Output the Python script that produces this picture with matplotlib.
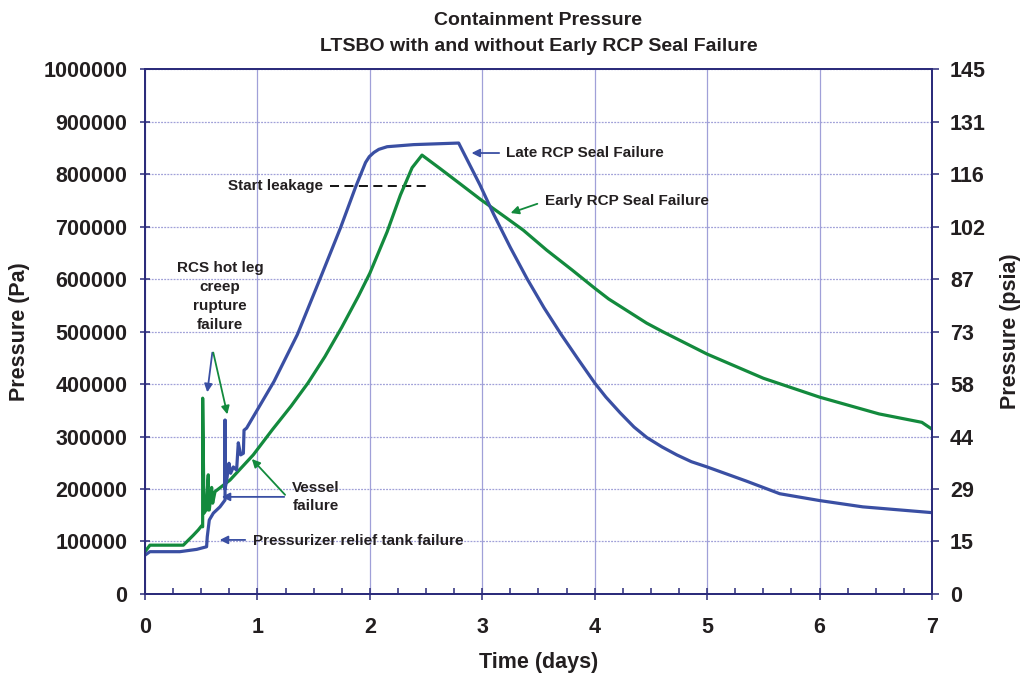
import matplotlib
matplotlib.use("Agg")
import matplotlib.pyplot as plt
from matplotlib.ticker import MultipleLocator

plt.rcParams['font.family'] = ['Liberation Sans', 'DejaVu Sans']
plt.rcParams['font.weight'] = 'bold'

# Late RCP seal failure (blue), time in days, pressure in Pa
late_days = [0.0, 0.044, 0.31, 0.46, 0.548, 0.554, 0.572, 0.608, 0.667, 0.712, 0.712, 0.712,
             0.727, 0.747, 0.762, 0.786, 0.815, 0.83, 0.851, 0.875, 0.881, 0.904, 1.052, 1.148,
             1.355, 1.562, 1.74, 1.873, 1.962, 1.995, 2.036, 2.08, 2.154, 2.39, 2.79, 2.98, 3.1,
             3.25, 3.4, 3.55, 3.7, 3.85, 4.0, 4.1, 4.227, 4.35, 4.464, 4.6, 4.73, 4.86, 5.0,
             5.35, 5.646, 6.0, 6.384, 7.0]
late_pa = [74000, 80600, 80600, 85000, 90000, 109000, 141000, 154000, 166000, 179000, 331000, 200000,
           217000, 249000, 230000, 242000, 236000, 288000, 265000, 268000, 312000, 316000, 370000, 405000,
           494000, 603000, 698000, 775000, 822000, 833000, 841000, 847000, 852000, 856000, 859000, 779000,
           724000, 660000, 600000, 545000, 495000, 448000, 402000, 375000, 345000, 318000, 298000, 280000,
           265000, 252000, 242000, 215000, 191000, 178000, 166000, 155000]

# Early RCP seal failure (green)
early_days = [0.0, 0.044, 0.341, 0.43, 0.474, 0.504, 0.513, 0.513, 0.525, 0.543, 0.563, 0.563,
              0.572, 0.593, 0.602, 0.623, 0.756, 0.963, 1.133, 1.3, 1.45, 1.6, 1.75, 1.9, 2.0,
              2.154, 2.272, 2.376, 2.464, 2.627, 2.805, 2.982, 3.217, 3.365, 3.573, 3.8, 4.003,
              4.124, 4.462, 4.611, 5.0, 5.5, 6.0, 6.53, 6.91, 7.0]
early_pa = [80600, 93000, 93000, 112000, 122000, 130000, 128000, 373000, 154000, 160000, 227000, 160000,
            160000, 203000, 173000, 195000, 217000, 265000, 313000, 358000, 402000, 452000, 508000,
            568000, 611000, 690000, 760000, 812000, 836000, 810000, 781000, 752000, 716000, 693000,
            655000, 617000, 582000, 562000, 516000, 499000, 457000, 411000, 375000, 343000, 327000, 314000]

pa_ticks = list(range(0, 1000001, 100000))
psia_labels = ['0', '15', '29', '44', '58', '73', '87', '102', '116', '131', '145']

BLUE = '#3a4fa3'
GREEN = '#138a3d'
NAVY = '#2b2b7a'
GRIDC = '#a0a0d8'
TXT = '#231f20'

fig = plt.figure(figsize=(10.21, 6.78), dpi=100)
ax = fig.add_axes([0.142, 0.1239, 0.7708, 0.7743])

ax.plot(early_days, early_pa, color=GREEN, lw=2.3, zorder=3)
ax.plot(late_days, late_pa, color=BLUE, lw=2.3, zorder=4)

ax.set_xlim(0, 7)
ax.set_ylim(0, 1000000)
ax.set_yticks(pa_ticks)
ax.set_yticklabels([str(v) for v in pa_ticks])
ax.xaxis.set_major_locator(MultipleLocator(1))
ax.xaxis.set_minor_locator(MultipleLocator(0.25))

ax.grid(axis='y', color=GRIDC, lw=0.9, linestyle=(0, (1.5, 1)))
ax.grid(axis='x', color=GRIDC, lw=0.9)
ax.set_axisbelow(True)

for s in ax.spines.values():
    s.set_color(NAVY)
    s.set_linewidth(1.3)

ax.tick_params(axis='y', which='major', direction='inout', length=7, width=1.1, color=NAVY,
               labelsize=15.5, labelcolor=TXT, pad=9)
ax.tick_params(axis='x', which='major', direction='inout', length=9, width=1.1, color=NAVY,
               labelsize=15.5, labelcolor=TXT, pad=12)
ax.tick_params(axis='x', which='minor', direction='in', length=4.5, width=1.1, color=NAVY)

ax.set_xlabel('Time (days)', fontsize=15.5, fontweight='bold', color=TXT, labelpad=10)
ax.set_ylabel('Pressure (Pa)', fontsize=15.5, fontweight='bold', color=TXT, labelpad=10)
ax.set_title('Containment Pressure\nLTSBO with and without Early RCP Seal Failure',
             fontsize=14, fontweight='bold', color=TXT, pad=13, linespacing=1.7)

ax2 = ax.twinx()
ax2.set_ylim(0, 1000000)
ax2.set_yticks(pa_ticks)
ax2.set_yticklabels(psia_labels)
ax2.tick_params(axis='y', direction='out', length=5, width=1.1, color=NAVY,
                labelsize=15.5, labelcolor=TXT, pad=8)
for s in ax2.spines.values():
    s.set_color(NAVY)
    s.set_linewidth(1.3)
ax2.set_ylabel('Pressure (psia)', fontsize=15.5, fontweight='bold', color=TXT, labelpad=10)

# annotations
afs = 11
ax.text(0.667, 566000, 'RCS hot leg\ncreep\nrupture\nfailure', ha='center', va='center',
        fontsize=afs, color=TXT, linespacing=1.45)
ax.annotate('', xy=(0.551, 379000), xytext=(0.602, 465000),
            arrowprops=dict(arrowstyle='-|>', color=BLUE, lw=1.3, mutation_scale=12))
ax.annotate('', xy=(0.738, 337000), xytext=(0.602, 465000),
            arrowprops=dict(arrowstyle='-|>', color=GREEN, lw=1.3, mutation_scale=12))

ax.text(1.52, 185000, 'Vessel\nfailure', ha='center', va='center', fontsize=afs, color=TXT,
        linespacing=1.3)
ax.annotate('', xy=(0.658, 185000), xytext=(1.263, 185000),
            arrowprops=dict(arrowstyle='-|>', color=BLUE, lw=1.3, mutation_scale=12))
ax.annotate('', xy=(0.934, 261000), xytext=(1.263, 185000),
            arrowprops=dict(arrowstyle='-|>', color=GREEN, lw=1.3, mutation_scale=12))

ax.text(0.96, 101000, 'Pressurizer relief tank failure', ha='left', va='center',
        fontsize=afs, color=TXT)
ax.annotate('', xy=(0.64, 103000), xytext=(0.916, 103000),
            arrowprops=dict(arrowstyle='-|>', color=BLUE, lw=1.3, mutation_scale=12))

ax.text(1.583, 777000, 'Start leakage', ha='right', va='center', fontsize=afs, color=TXT)
ax.plot([1.645, 2.508], [777000, 777000], color='black', lw=1.3, linestyle=(0, (5, 3)), zorder=2)

ax.text(3.21, 840000, 'Late RCP Seal Failure', ha='left', va='center', fontsize=afs, color=TXT)
ax.annotate('', xy=(2.88, 840000), xytext=(3.175, 840000),
            arrowprops=dict(arrowstyle='-|>', color=BLUE, lw=1.3, mutation_scale=12))

ax.text(3.558, 749000, 'Early RCP Seal Failure', ha='left', va='center', fontsize=afs, color=TXT)
ax.annotate('', xy=(3.229, 724000), xytext=(3.513, 745000),
            arrowprops=dict(arrowstyle='-|>', color=GREEN, lw=1.3, mutation_scale=12))

fig.savefig('out.png', dpi=100)
